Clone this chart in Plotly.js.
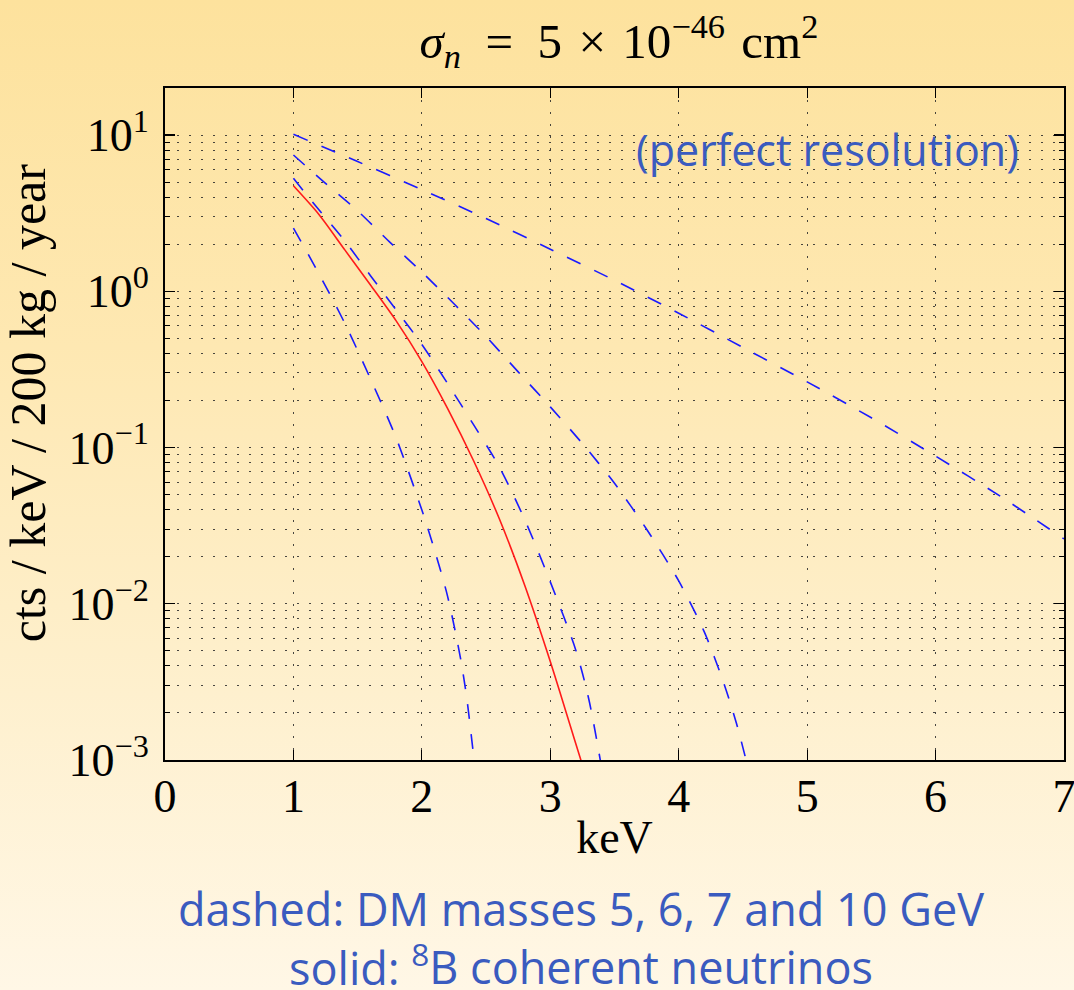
<!DOCTYPE html>
<html>
<head>
<meta charset="utf-8">
<script src="https://cdn.plot.ly/plotly-3.0.1.min.js"></script>
<style>
  html, body { margin: 0; padding: 0; }
  body {
    width: 1074px; height: 990px; overflow: hidden;
    background: linear-gradient(180deg, #FDE29D 0%, #FEE8B2 35%, #FEF0CE 70%, #FFF7E6 100%);
  }
  #chart { width: 1074px; height: 990px; }
</style>
</head>
<body>
<div id="chart"></div>
<script>
// ---- data ----
// solid red: 8B coherent neutrinos
const nuEnergy = [1.0, 1.2, 1.4, 1.6, 1.8, 2.0, 2.2, 2.4, 2.6, 2.8, 3.0, 3.2, 3.25];
const nuRate   = [4.73, 3.09, 1.84, 1.096, 0.646, 0.355, 0.178, 0.0832, 0.0355, 0.0132, 0.00427, 0.00126, 0.00093];

// dashed blue: DM 5 GeV
const dm5Energy = [1.0, 1.2, 1.4, 1.6, 1.8, 2.0, 2.1, 2.2, 2.3, 2.35, 2.4, 2.43];
const dm5Rate   = [2.535, 1.288, 0.624, 0.275, 0.115, 0.0398, 0.0219, 0.0112, 0.00452, 0.00248, 0.00112, 0.00071];

// dashed blue: DM 6 GeV
const dm6Energy = [1.0, 1.2, 1.4, 1.6, 1.8, 2.0, 2.2, 2.4, 2.6, 2.8, 3.0, 3.2, 3.3, 3.4];
const dm6Rate   = [5.28, 3.31, 2.10, 1.259, 0.759, 0.457, 0.257, 0.141, 0.0759, 0.0347, 0.0138, 0.00501, 0.00245, 0.00089];

// dashed blue: DM 7 GeV
const dm7Energy = [1.0, 1.25, 1.5, 1.75, 2.0, 2.25, 2.5, 2.75, 3.0, 3.25, 3.5, 3.75, 4.0, 4.2, 4.35, 4.45, 4.53];
const dm7Rate   = [7.45, 4.90, 3.27, 2.065, 1.327, 0.832, 0.513, 0.305, 0.182, 0.106, 0.059, 0.030, 0.014, 0.00658, 0.00312, 0.00171, 0.00096];

// dashed blue: DM 10 GeV
const dm10Energy = [1.0, 1.5, 2.0, 2.5, 3.0, 3.5, 4.0, 4.5, 5.0, 5.5, 6.0, 6.5, 7.0];
const dm10Rate   = [10.1, 6.76, 4.47, 2.92, 1.86, 1.175, 0.724, 0.437, 0.263, 0.155, 0.0881, 0.049, 0.026];

// axis ticks
const xTickVals  = [0, 1, 2, 3, 4, 5, 6, 7];
const yTickVals  = [0.001, 0.01, 0.1, 1, 10];
const yTickText  = ['10<sup>\u22123</sup>', '10<sup>\u22122</sup>', '10<sup>\u22121</sup>', '10<sup>0</sup>', '10<sup>1</sup>'];
const yMinorDigits = [2, 3, 4, 5, 6, 7, 8, 9];

// texts
const titleText  = '<i>\u03C3</i><sub><i>n</i></sub>\u2002=\u20025\u2004\u00D7\u200410<sup>\u221246</sup>\u2004cm<sup>2</sup>';
const xTitleText = 'keV';
const yTitleText = '\u200B\u2002\u2004cts / keV / 200 kg / year';
const noteText   = '(perfect resolution)';
const captionText = 'dashed: DM masses 5, 6, 7 and 10 GeV<br>solid: <sup>8</sup>B coherent neutrinos';

// minor tick positions (2..9 x 10^k within the axis)
const yMinorVals = [];
yTickVals.slice(0, 4).forEach(function (d) {
  yMinorDigits.forEach(function (m) { yMinorVals.push(m * d); });
});

const BLUE_DASH = { color: '#1a1aff', width: 1.6, dash: '15px,15px', shape: 'spline', smoothing: 0.8 };

const traces = [
  { x: dm10Energy, y: dm10Rate, mode: 'lines', line: BLUE_DASH, name: 'DM 10 GeV' },
  { x: dm7Energy,  y: dm7Rate,  mode: 'lines', line: BLUE_DASH, name: 'DM 7 GeV' },
  { x: dm6Energy,  y: dm6Rate,  mode: 'lines', line: BLUE_DASH, name: 'DM 6 GeV' },
  { x: dm5Energy,  y: dm5Rate,  mode: 'lines', line: BLUE_DASH, name: 'DM 5 GeV' },
  { x: nuEnergy,   y: nuRate,   mode: 'lines', line: { color: '#ff1a1a', width: 1.6, shape: 'spline', smoothing: 0.8 }, name: '8B neutrinos' }
];

const GRID = { gridcolor: 'rgba(40,40,40,0.85)', gridwidth: 1, griddash: '2px,10px' };
const SERIF = 'Liberation Serif';
const NOTE_BLUE = '#3a5bbf';

const layout = {
  width: 1074, height: 990,
  margin: { l: 165, r: 10, t: 88, b: 230 },
  paper_bgcolor: 'rgba(0,0,0,0)',
  plot_bgcolor: 'rgba(0,0,0,0)',
  showlegend: false,
  title: {
    text: titleText,
    font: { family: SERIF, size: 49, color: '#000' },
    xref: 'paper', x: 0.505, xanchor: 'center',
    yref: 'container', y: 1 - 41 / 990, yanchor: 'middle'
  },
  xaxis: {
    range: [0, 7],
    tickmode: 'array', tickvals: xTickVals,
    ticks: 'inside', ticklen: 10, tickwidth: 1.2, tickcolor: '#000',
    showline: true, linecolor: '#000', linewidth: 2, mirror: 'allticks',
    showgrid: true, gridcolor: GRID.gridcolor, gridwidth: GRID.gridwidth, griddash: GRID.griddash,
    zeroline: false,
    tickfont: { family: SERIF, size: 46, color: '#000' },
    ticklabelstandoff: -5,
    ticklabeloverflow: 'allow',
    title: { text: xTitleText, font: { family: SERIF, size: 46, color: '#000' }, standoff: 0 }
  },
  yaxis: {
    type: 'log',
    range: [-3, Math.log10(20)],
    tickmode: 'array', tickvals: yTickVals, ticktext: yTickText,
    ticks: 'inside', ticklen: 10, tickwidth: 1.2, tickcolor: '#000',
    showline: true, linecolor: '#000', linewidth: 2, mirror: 'allticks',
    showgrid: true, gridcolor: GRID.gridcolor, gridwidth: GRID.gridwidth, griddash: GRID.griddash,
    zeroline: false,
    minor: {
      tickmode: 'array', tickvals: yMinorVals,
      ticks: 'inside', ticklen: 5, tickwidth: 1, tickcolor: '#000',
      showgrid: true, gridcolor: GRID.gridcolor, gridwidth: GRID.gridwidth, griddash: GRID.griddash
    },
    tickfont: { family: SERIF, size: 46, color: '#000' },
    ticklabelstandoff: 5,
    ticklabeloverflow: 'allow',
    title: { text: yTitleText, font: { family: SERIF, size: 50, color: '#000' }, standoff: 10 }
  },
  annotations: [
    { text: noteText, xref: 'paper', yref: 'paper', x: 0.737, y: 0.909, xanchor: 'center', yanchor: 'middle',
      showarrow: false, font: { family: 'Open Sans', size: 43, color: NOTE_BLUE } },
    { text: captionText, xref: 'paper', yref: 'paper', x: 0.463, y: (760 - 938) / 672, xanchor: 'center', yanchor: 'middle',
      align: 'center', showarrow: false, font: { family: 'Open Sans', size: 45, color: NOTE_BLUE } }
  ]
};

Plotly.newPlot('chart', traces, layout, { staticPlot: true, displayModeBar: false });
</script>
</body>
</html>
